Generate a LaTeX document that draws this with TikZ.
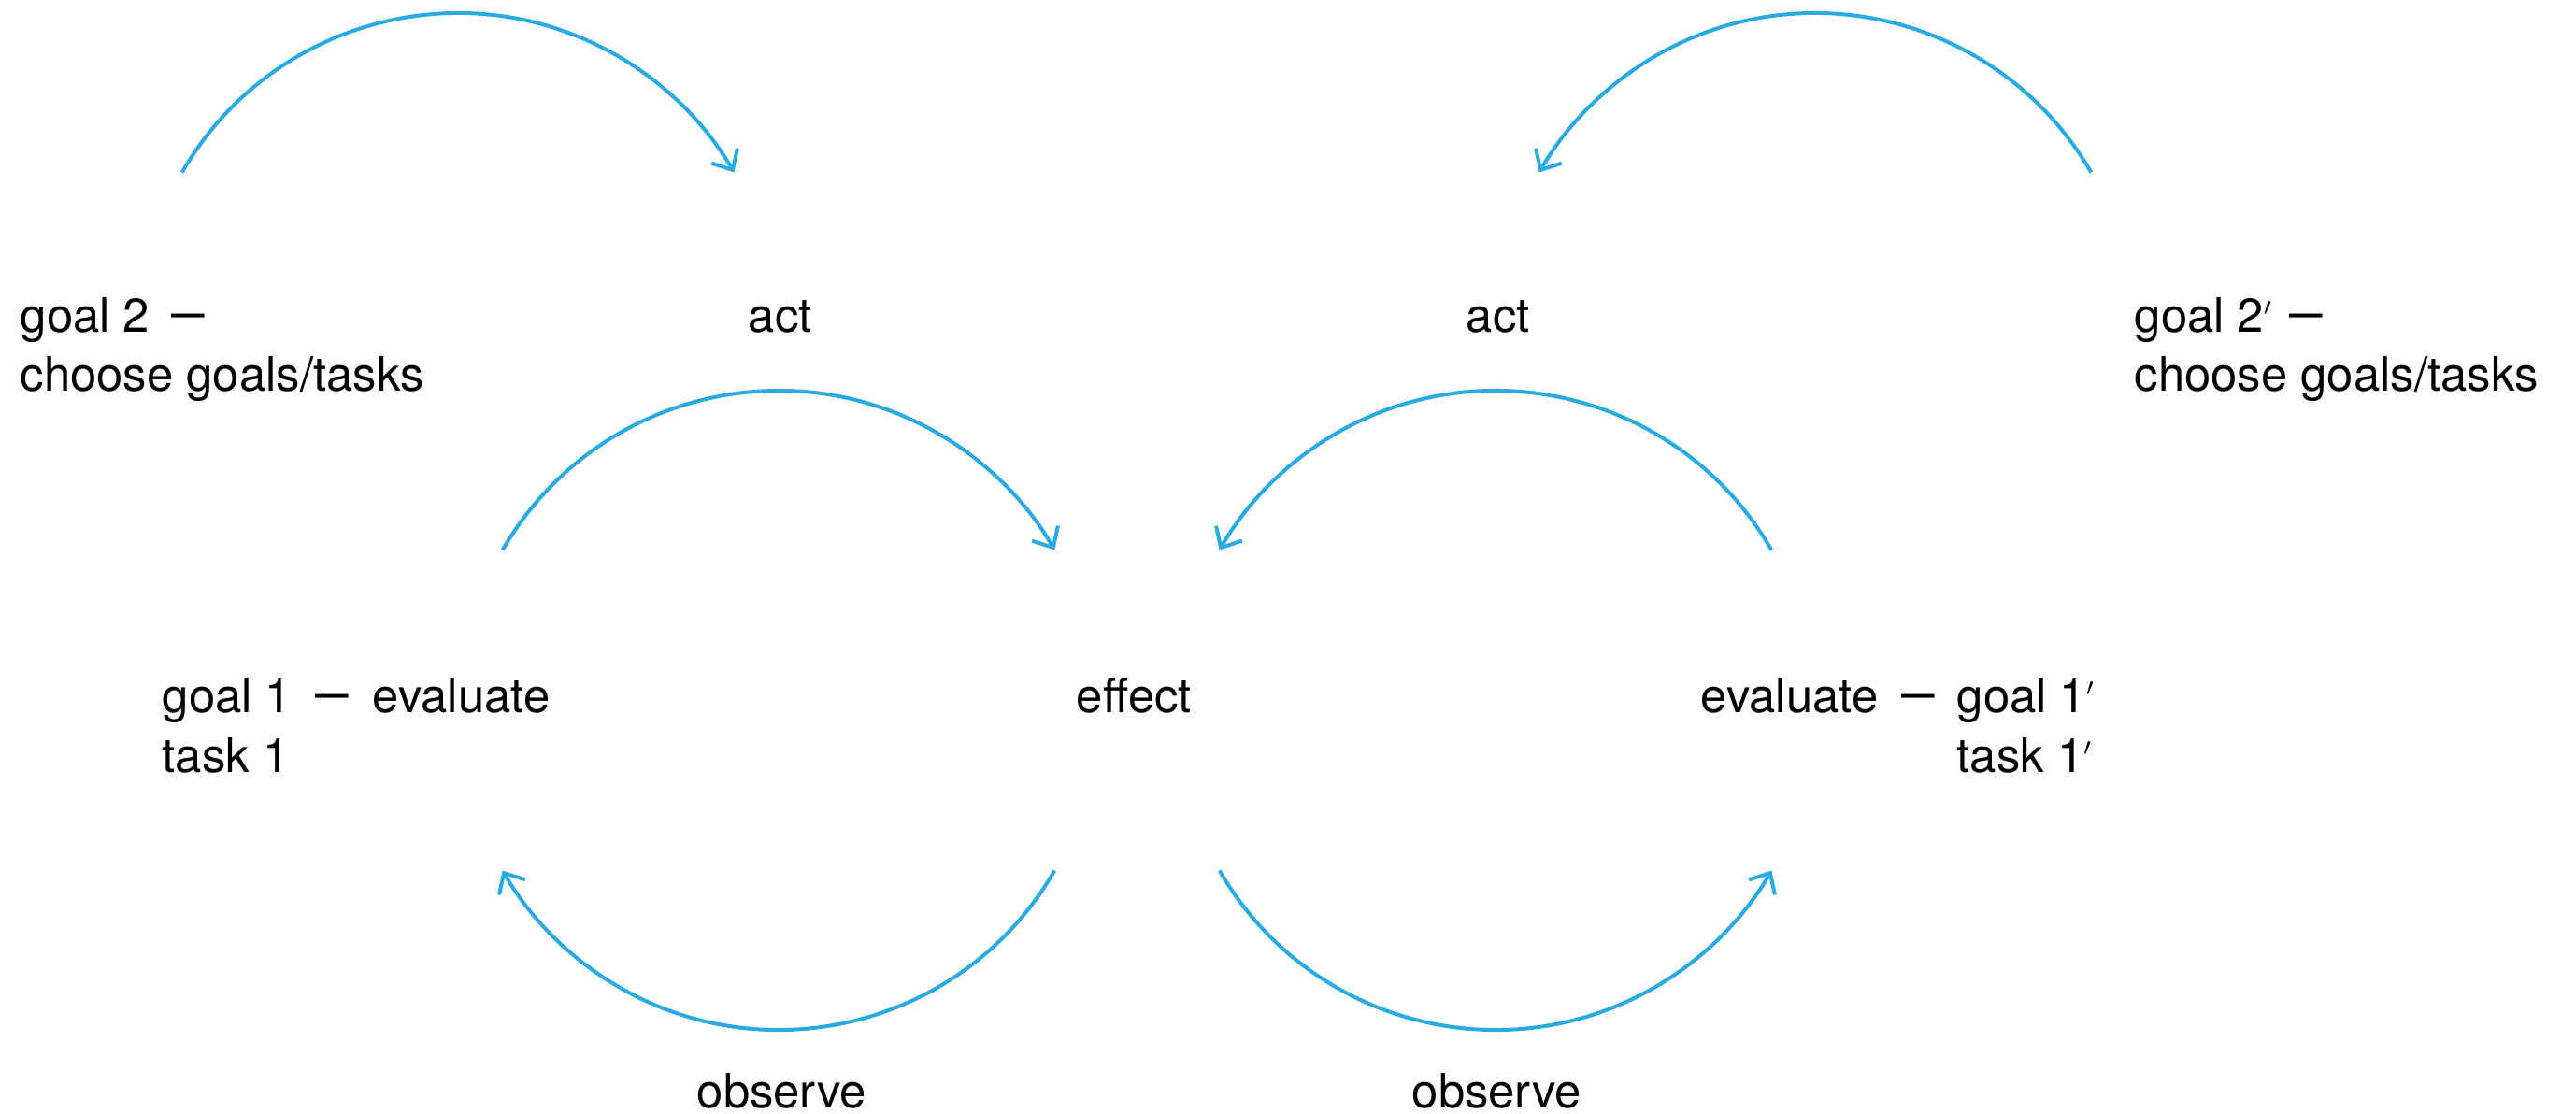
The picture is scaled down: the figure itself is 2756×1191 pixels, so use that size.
\documentclass[tikz,border=0pt]{standalone}
\usepackage{fontspec}
\usepackage{graphicx}
\setmainfont{TeX Gyre Heros}
\usetikzlibrary{arrows.meta}
\definecolor{flowblue}{HTML}{29ABE2}
\newcommand\mydash{\raisebox{0.05ex}{\scalebox{0.7}[1.1]{—}}}
\newcommand\prm{\raisebox{0.15ex}{\scalebox{0.75}{$^{\prime}$}}}
\begin{document}
\begin{tikzpicture}[x=0.25pt,y=0.25pt,
  lbl/.style={anchor=base west,inner sep=0pt,font=\fontsize{12.7pt}{15.75pt}\selectfont},
  flow/.style={draw=flowblue,line width=1pt,-{Straight Barb[length=4.4pt,width=8pt,line width=1pt]}}]
\useasboundingbox (0,0) rectangle (2756,-1191);
% labels
\node[lbl] (goal2a) at (21,-355) {goal 2\hspace{0.45em}\mydash};
\node[lbl] (goal2b) at (21,-418) {choose goals/tasks};
\node[lbl] (actL) at (800,-355) {act};
\node[lbl] (actR) at (1568,-355) {act};
\node[lbl] (goal2pa) at (2283,-355) {goal 2\prm\hspace{0.35em}\mydash};
\node[lbl] (goal2pb) at (2283,-418) {choose goals/tasks};
\node[lbl] (goal1) at (173,-762) {goal 1\hspace{0.5em}\mydash};
\node[lbl] (evalL) at (398,-762) {evaluate};
\node[lbl] (task1) at (173,-826) {task 1};
\node[lbl] (effect) at (1151,-762) {effect};
\node[lbl] (evalR) at (1819,-762) {evaluate\hspace{0.5em}\mydash};
\node[lbl] (goal1p) at (2093,-762) {goal 1\prm};
\node[lbl] (task1p) at (2093,-826) {task 1\prm};
\node[lbl] (obsL) at (745,-1185) {observe};
\node[lbl] (obsR) at (1510,-1185) {observe};
% arc start points
\coordinate (s1) at ({490-295.3},{-355+170.5});
\coordinate (s2) at ({1942+295.3},{-355+170.5});
\coordinate (s3) at ({833-295.3},{-759+170.5});
\coordinate (s4) at ({1600+295.3},{-759+170.5});
\coordinate (s5) at ({833+295.3},{-761-170.5});
\coordinate (s6) at ({1600-295.3},{-761-170.5});
% arcs
\draw[flow] (s1) arc[start angle=150,end angle=30,radius=341];
\draw[flow] (s2) arc[start angle=30,end angle=150,radius=341];
\draw[flow] (s3) arc[start angle=150,end angle=30,radius=341];
\draw[flow] (s4) arc[start angle=30,end angle=150,radius=341];
\draw[flow] (s5) arc[start angle=-30,end angle=-150,radius=341];
\draw[flow] (s6) arc[start angle=-150,end angle=-30,radius=341];
\end{tikzpicture}
\end{document}
